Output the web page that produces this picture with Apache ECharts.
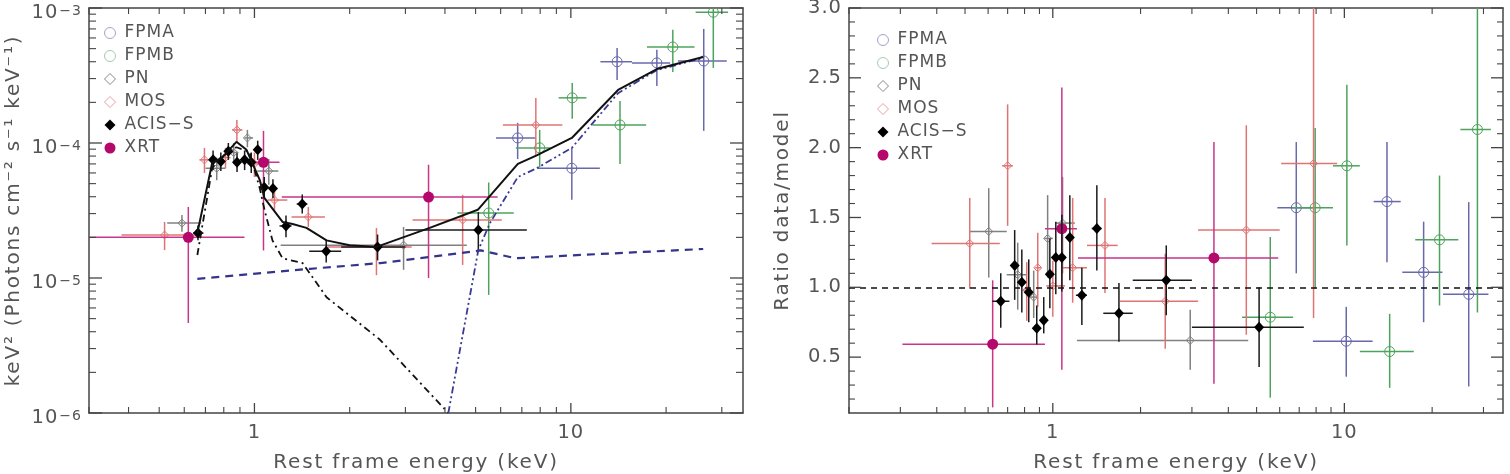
<!DOCTYPE html>
<html>
<head>
<meta charset="utf-8">
<script src="https://cdn.jsdelivr.net/npm/echarts@6/dist/echarts.min.js"></script>
<style>
html, body { margin: 0; padding: 0; background: #fff; }
#chart { width: 1510px; height: 474px; }
</style>
</head>
<body>
<div id="chart"></div>
<script>
// each point: [E, value, E_lo, E_hi, value_lo, value_hi]
var specFPMA = [
  [6.79, 1.09e-4, 5.8, 7.75, 7.6e-5, 1.41e-4],
  [10.07, 6.5e-5, 7.85, 12.35, 3.8e-5, 9.2e-5],
  [14.0, 4.0e-4, 12.4, 15.6, 2.93e-4, 5.06e-4],
  [18.7, 3.92e-4, 15.6, 20.6, 2.64e-4, 4.9e-4],
  [26.3, 4.05e-4, 21.8, 31.1, 1.23e-4, 7.0e-4]
];
var specFPMB = [
  [5.5, 3.03e-5, 4.38, 6.6, 7.5e-6, 5.1e-5],
  [7.97, 9.2e-5, 6.7, 8.6, 6.6e-5, 1.25e-4],
  [10.1, 2.16e-4, 9.15, 11.2, 1.51e-4, 2.78e-4],
  [14.3, 1.36e-4, 11.7, 17.3, 7.0e-5, 2.05e-4],
  [21.0, 5.14e-4, 17.4, 24.6, 3.36e-4, 6.9e-4],
  [28.2, 9.3e-4, 24.8, 31.4, 3.6e-4, 1.6e-3]
];
var specPN = [
  [0.59, 2.55e-5, 0.53, 0.68, 2.2e-5, 2.93e-5],
  [0.76, 6.5e-5, 0.70, 0.81, 5.3e-5, 7.8e-5],
  [0.86, 8.5e-5, 0.83, 0.89, 7.0e-5, 1.0e-4],
  [0.95, 1.09e-4, 0.93, 0.99, 9.3e-5, 1.25e-4],
  [1.11, 6.2e-5, 1.02, 1.19, 4.9e-5, 7.6e-5],
  [2.96, 1.75e-5, 1.21, 4.69, 1.15e-5, 2.39e-5]
];
var specMOS = [
  [0.52, 2.08e-5, 0.38, 0.655, 1.61e-5, 2.6e-5],
  [0.695, 7.5e-5, 0.67, 0.73, 6.0e-5, 9.2e-5],
  [0.81, 7.8e-5, 0.79, 0.84, 6.5e-5, 9.2e-5],
  [0.88, 1.25e-4, 0.85, 0.916, 1.0e-4, 1.48e-4],
  [1.0, 7.0e-5, 0.95, 1.1, 5.6e-5, 8.5e-5],
  [1.157, 3.78e-5, 1.1, 1.27, 3.2e-5, 4.5e-5],
  [1.48, 2.83e-5, 1.31, 1.67, 2.39e-5, 3.36e-5],
  [2.43, 1.7e-5, 1.7, 3.14, 1.05e-5, 2.35e-5],
  [4.55, 2.69e-5, 3.16, 6.05, 1.25e-5, 4.12e-5],
  [7.75, 1.36e-4, 6.1, 9.4, 8.1e-5, 2.15e-4]
];
var specACIS = [
  [0.663, 2.15e-5, 0.64, 0.69, 1.9e-5, 2.45e-5],
  [0.74, 7.5e-5, 0.72, 0.76, 6.3e-5, 8.8e-5],
  [0.783, 7.3e-5, 0.765, 0.80, 6.2e-5, 8.5e-5],
  [0.827, 8.7e-5, 0.81, 0.845, 7.5e-5, 1.0e-4],
  [0.881, 7.2e-5, 0.86, 0.90, 6.1e-5, 8.4e-5],
  [0.931, 7.5e-5, 0.91, 0.95, 6.3e-5, 8.8e-5],
  [0.977, 7.2e-5, 0.955, 1.0, 6.0e-5, 8.5e-5],
  [1.024, 8.9e-5, 1.0, 1.05, 7.5e-5, 1.04e-4],
  [1.074, 4.7e-5, 1.05, 1.10, 3.9e-5, 5.6e-5],
  [1.144, 4.6e-5, 1.11, 1.18, 3.9e-5, 5.4e-5],
  [1.258, 2.43e-5, 1.2, 1.31, 2.0e-5, 2.9e-5],
  [1.416, 3.53e-5, 1.36, 1.47, 3.0e-5, 4.15e-5],
  [1.686, 1.58e-5, 1.49, 1.88, 1.3e-5, 1.9e-5],
  [2.45, 1.7e-5, 1.88, 3.0, 1.35e-5, 2.1e-5],
  [5.1, 2.27e-5, 3.0, 7.26, 1.61e-5, 3.08e-5]
];
var specXRT = [
  [0.618, 2.0e-5, 0.29, 0.93, 4.64e-6, 3.36e-5],
  [1.068, 7.2e-5, 0.985, 1.2, 1.6e-5, 1.23e-4],
  [3.55, 3.98e-5, 1.22, 5.87, 1.0e-5, 6.9e-5]
];

var ratioFPMA = [
  [6.84, 1.57, 5.89, 7.78, 1.1, 2.04],
  [10.15, 0.614, 7.8, 12.5, 0.36, 0.86],
  [14.0, 1.614, 12.6, 15.6, 1.18, 2.04],
  [18.7, 1.107, 15.8, 21.7, 0.75, 1.47],
  [26.7, 0.95, 21.8, 31.2, 0.29, 1.61]
];
var ratioFPMB = [
  [5.57, 0.786, 4.46, 6.67, 0.21, 1.36],
  [7.94, 1.57, 6.63, 9.14, 0.99, 2.14],
  [10.2, 1.87, 9.14, 11.3, 1.3, 2.45],
  [14.3, 0.54, 11.3, 17.3, 0.28, 0.81],
  [21.2, 1.34, 17.5, 24.6, 0.87, 1.8],
  [28.6, 2.13, 25.0, 31.8, 0.82, 3.3]
];
var ratioPN = [
  [0.603, 1.40, 0.52, 0.695, 1.07, 1.71],
  [0.758, 1.09, 0.695, 0.81, 0.84, 1.32],
  [0.86, 0.93, 0.83, 0.89, 0.78, 1.12],
  [0.96, 1.35, 0.935, 1.0, 1.07, 1.66],
  [1.08, 1.46, 1.02, 1.19, 1.1, 1.79],
  [2.96, 0.62, 1.21, 4.68, 0.41, 0.84]
];
var ratioMOS = [
  [0.519, 1.314, 0.384, 0.658, 0.99, 1.64],
  [0.70, 1.87, 0.67, 0.73, 1.44, 2.31],
  [0.814, 0.98, 0.79, 0.84, 0.76, 1.18],
  [0.888, 1.14, 0.87, 0.91, 0.86, 1.39],
  [1.0, 1.01, 0.95, 1.1, 0.79, 1.19],
  [1.17, 1.14, 1.07, 1.31, 0.89, 1.64],
  [1.51, 1.30, 1.31, 1.67, 0.96, 1.64],
  [2.43, 0.90, 1.7, 3.15, 0.56, 1.24],
  [4.61, 1.41, 3.15, 6.0, 0.66, 2.16],
  [7.84, 1.886, 6.07, 9.45, 0.78, 3.3]
];
var ratioACIS = [
  [0.663, 0.90, 0.62, 0.71, 0.71, 1.1],
  [0.74, 1.157, 0.72, 0.76, 0.91, 1.41],
  [0.783, 1.036, 0.765, 0.80, 0.82, 1.27],
  [0.827, 0.964, 0.81, 0.845, 0.75, 1.2],
  [0.881, 0.707, 0.86, 0.90, 0.59, 0.87],
  [0.931, 0.764, 0.91, 0.95, 0.67, 0.93],
  [0.977, 1.093, 0.955, 1.0, 0.85, 1.35],
  [1.024, 1.214, 1.0, 1.05, 0.95, 1.47],
  [1.074, 1.214, 1.05, 1.10, 0.97, 1.52],
  [1.144, 1.357, 1.11, 1.18, 1.05, 1.66],
  [1.258, 0.943, 1.2, 1.31, 0.73, 1.14],
  [1.416, 1.421, 1.36, 1.47, 1.12, 1.73],
  [1.686, 0.814, 1.49, 1.88, 0.61, 1.03],
  [2.45, 1.05, 1.88, 3.0, 0.8, 1.3],
  [5.1, 0.714, 3.0, 7.26, 0.43, 1.0]
];
var ratioXRT = [
  [0.622, 0.593, 0.305, 0.94, 0.14, 1.05],
  [1.074, 1.42, 0.94, 1.21, 0.41, 2.43],
  [3.57, 1.21, 1.22, 5.93, 0.31, 2.04]
];

// model curves (E, keV^2 flux)
var modelTotal = [[0.66,2.15e-5],[0.736,7.2e-5],[0.787,7.7e-5],[0.877,1.02e-4],[0.944,8.9e-5],[1.04,5.3e-5],[1.076,3.9e-5],[1.227,2.6e-5],[1.32,2.51e-5],[1.46,2.35e-5],[1.69,1.9e-5],[2.0,1.75e-5],[2.43,1.7e-5],[3.58,2.35e-5],[5.08,3.2e-5],[6.8,7.0e-5],[7.8,8.1e-5],[10.07,1.09e-4],[14.1,2.47e-4],[18.7,3.53e-4],[26.2,4.34e-4]];
var modelPowerlaw = [[0.66,9.85e-6],[1.5,1.17e-5],[2.5,1.29e-5],[5.2,1.6e-5],[6.7,1.4e-5],[10,1.47e-5],[26.2,1.64e-5]];
var modelSoft = [[0.66,1.48e-5],[0.736,6.6e-5],[0.80,8.1e-5],[0.877,9.3e-5],[0.964,8.6e-5],[1.04,4.6e-5],[1.076,3.2e-5],[1.14,1.9e-5],[1.227,1.4e-5],[1.42,1.29e-5],[1.69,7.2e-6],[2.49,3.5e-6],[4.1,1.0e-6]];
var modelHard = [[4.1,1.0e-6],[5.1,1.61e-5],[5.55,2.55e-5],[6.8,5.6e-5],[7.8,6.5e-5],[10.07,9.2e-5],[14.1,2.34e-4],[18.7,3.47e-4],[26.2,4.27e-4]];

// ticks
var xMajor = [1, 10];
var xMinorLeft = [0.3,0.4,0.5,0.6,0.7,0.8,0.9,2,3,4,5,6,7,8,9,20,30];
var xMinorRight = [0.2,0.3,0.4,0.5,0.6,0.7,0.8,0.9,2,3,4,5,6,7,8,9,20,30];
var fluxMajor = [1e-6, 1e-5, 1e-4, 1e-3];
var fluxMinor = [2e-6,3e-6,4e-6,5e-6,6e-6,7e-6,8e-6,9e-6,2e-5,3e-5,4e-5,5e-5,6e-5,7e-5,8e-5,9e-5,2e-4,3e-4,4e-4,5e-4,6e-4,7e-4,8e-4,9e-4];
var ratioMajor = [0.5, 1.0, 1.5, 2.0, 2.5, 3.0];
var ratioMinor = [0.2,0.3,0.4,0.6,0.7,0.8,0.9,1.1,1.2,1.3,1.4,1.6,1.7,1.8,1.9,2.1,2.2,2.3,2.4,2.6,2.7,2.8,2.9];

// tracked-out lettering like the original plot: 20px titles wider than the rest
(function () {
  var P = CanvasRenderingContext2D.prototype;
  var ft = P.fillText, mt = P.measureText;
  function track(ctx) { ctx.letterSpacing = /(^|\s)20px/.test(ctx.font) ? '1.8px' : '1px'; }
  P.fillText = function () { track(this); return ft.apply(this, arguments); };
  P.measureText = function () { track(this); return mt.apply(this, arguments); };
})();

var FONT = 'DejaVu Sans';
var AX = '#444';
var TXT = '#555';
var COL = {
  FPMA: '#6868ac', FPMB: '#4ea35c', PN: '#808080',
  MOS: '#e07474', ACIS: '#1a1a1a', XRT: '#c8358a', XRTdot: '#b5086c'
};

function supRich(base, small) {
  return {
    b: { fontSize: base, lineHeight: base, verticalAlign: 'bottom', color: TXT, fontFamily: FONT },
    sup: { fontSize: small, lineHeight: small, verticalAlign: 'top', padding: [0, 0, 11, 1], color: TXT, fontFamily: FONT }
  };
}

function makeErr(kind, color, fillColor) {
  return function (params, api) {
    var x = api.value(0), y = api.value(1);
    var c = api.coord([x, y]);
    var xl = api.coord([api.value(2), y]);
    var xr = api.coord([api.value(3), y]);
    var yl = api.coord([x, api.value(4)]);
    var yh = api.coord([x, api.value(5)]);
    var ls = { stroke: color, lineWidth: 1.5 };
    var kids = [
      { type: 'line', shape: { x1: xl[0], y1: c[1], x2: xr[0], y2: c[1] }, style: ls },
      { type: 'line', shape: { x1: c[0], y1: yl[1], x2: c[0], y2: yh[1] }, style: ls }
    ];
    if (kind === 'circle') {
      kids.push({ type: 'circle', shape: { cx: c[0], cy: c[1], r: 5 }, style: { stroke: color, fill: 'transparent', lineWidth: 1 } });
    } else if (kind === 'diamond') {
      kids.push({ type: 'polygon', shape: { points: [[c[0], c[1]-4], [c[0]+4, c[1]], [c[0], c[1]+4], [c[0]-4, c[1]]] }, style: { stroke: color, fill: 'transparent', lineWidth: 1 } });
    } else if (kind === 'fdiamond') {
      kids.push({ type: 'polygon', shape: { points: [[c[0], c[1]-5.5], [c[0]+5, c[1]], [c[0], c[1]+5.5], [c[0]-5, c[1]]] }, style: { fill: fillColor } });
    } else {
      kids.push({ type: 'circle', shape: { cx: c[0], cy: c[1], r: 5.5 }, style: { fill: fillColor } });
    }
    return { type: 'group', children: kids };
  };
}

function errSeries(name, data, kind, color, fillColor, axIdx) {
  return {
    type: 'custom', name: name, data: data, clip: true,
    xAxisIndex: axIdx, yAxisIndex: axIdx,
    itemStyle: { color: fillColor || color },
    renderItem: makeErr(kind, color, fillColor),
    silent: true, z: 3
  };
}

function modelSeries(data, color, width, dash) {
  return {
    type: 'line', data: data, xAxisIndex: 0, yAxisIndex: 0,
    symbol: 'none', showSymbol: false, clip: true, silent: true, z: 4,
    lineStyle: { color: color, width: width, type: dash }
  };
}

// inward ticks on all four sides of a grid, placed through the axes' scales
function tickSeries(axIdx, xMaj, xMin, yMaj, yMin, refX, refY, lens) {
  var data = [];
  xMaj.forEach(function (v) { data.push([v, refY, 1, 0]); });
  xMin.forEach(function (v) { data.push([v, refY, 0, 0]); });
  yMaj.forEach(function (v) { data.push([refX, v, 1, 1]); });
  yMin.forEach(function (v) { data.push([refX, v, 0, 1]); });
  return {
    type: 'custom', data: data, xAxisIndex: axIdx, yAxisIndex: axIdx, silent: true, clip: false, z: 5,
    renderItem: function (params, api) {
      var cs = params.coordSys;
      var major = api.value(2) === 1;
      var st = { stroke: AX, lineWidth: major ? 1.3 : 1.1 };
      if (api.value(3) === 0) {
        var px = api.coord([api.value(0), refY])[0];
        var L = major ? lens[0] : lens[1];
        var yb = cs.y + cs.height, yt = cs.y;
        return { type: 'group', children: [
          { type: 'line', shape: { x1: px, y1: yb, x2: px, y2: yb - L }, style: st },
          { type: 'line', shape: { x1: px, y1: yt, x2: px, y2: yt + L }, style: st }
        ] };
      }
      var py = api.coord([refX, api.value(1)])[1];
      var M = major ? lens[2] : lens[3];
      var xl = cs.x, xr = cs.x + cs.width;
      return { type: 'group', children: [
        { type: 'line', shape: { x1: xl, y1: py, x2: xl + M, y2: py }, style: st },
        { type: 'line', shape: { x1: xr, y1: py, x2: xr - M, y2: py }, style: st }
      ] };
    }
  };
}

function axis(gridIndex, position, type, min, max, label, extra) {
  var a = {
    gridIndex: gridIndex, position: position, type: type, min: min, max: max, logBase: 10,
    splitLine: { show: false }, silent: true,
    axisLine: { show: true, onZero: false, lineStyle: { color: AX, width: 1.5 } },
    axisTick: { show: false },
    axisLabel: label || { show: false }
  };
  if (extra) Object.assign(a, extra);
  return a;
}

var xLabel = {
  show: true, customValues: xMajor, margin: 9, fontSize: 19.5, color: TXT, fontFamily: FONT,
  formatter: function (v) { return String(Math.round(v)); }
};
var xName = {
  name: 'Rest frame energy (keV)', nameLocation: 'middle', nameGap: 39,
  nameTextStyle: { fontSize: 20, color: TXT, fontFamily: FONT }
};

var xAxes = [
  axis(0, 'bottom', 'log', 0.3, 35, xLabel, xName),
  axis(0, 'top', 'log', 0.3, 35),
  axis(1, 'bottom', 'log', 0.2, 35, xLabel, xName),
  axis(1, 'top', 'log', 0.2, 35)
];

var fluxLabel = {
  show: true, customValues: fluxMajor, margin: 7, padding: [12, 0, 0, 0], rich: supRich(19.5, 14),
  formatter: function (v) { return '{b|10}{sup|−' + Math.round(-Math.log10(v)) + '}'; }
};
var fluxName = {
  name: 'keV² (Photons cm⁻² s⁻¹ keV⁻¹)',
  nameLocation: 'middle', nameGap: 64, nameRotate: 90,
  nameTextStyle: { fontSize: 20, color: TXT, fontFamily: FONT }
};
var ratioLabel = {
  show: true, customValues: ratioMajor, margin: 7, fontSize: 19.5, color: TXT, fontFamily: FONT,
  formatter: function (v) { return v.toFixed(1); }
};
var ratioName = {
  name: 'Ratio data/model', nameLocation: 'middle', nameGap: 55, nameRotate: 90,
  nameTextStyle: { fontSize: 20, color: TXT, fontFamily: FONT }
};

var yAxes = [
  axis(0, 'left', 'log', 1e-6, 1e-3, fluxLabel, fluxName),
  axis(0, 'right', 'log', 1e-6, 1e-3),
  axis(1, 'left', 'value', 0.1, 3.0, ratioLabel, ratioName),
  axis(1, 'right', 'value', 0.1, 3.0)
];

function legendItems() {
  return [
    { name: 'FPMA', icon: 'circle', itemStyle: { color: 'transparent', borderColor: '#a4a4c8', borderWidth: 1 } },
    { name: 'FPMB', icon: 'circle', itemStyle: { color: 'transparent', borderColor: '#a6cbb0', borderWidth: 1 } },
    { name: 'PN', icon: 'diamond', itemStyle: { color: 'transparent', borderColor: '#888', borderWidth: 1 } },
    { name: 'MOS', icon: 'diamond', itemStyle: { color: 'transparent', borderColor: '#e8a0a0', borderWidth: 1 } },
    { name: 'ACIS−S', icon: 'diamond', itemStyle: { color: '#000' } },
    { name: 'XRT', icon: 'circle', itemStyle: { color: COL.XRTdot } }
  ];
}
function legendAt(left, top) {
  return {
    left: left, top: top, padding: 0, orient: 'vertical', itemWidth: 11, itemHeight: 11, itemGap: 5,
    selectedMode: false,
    textStyle: { fontSize: 17, lineHeight: 17, color: TXT, fontFamily: FONT, padding: [0, 0, 0, 4] },
    data: legendItems()
  };
}

var series = [
  tickSeries(0, xMajor, xMinorLeft, fluxMajor, fluxMinor, 1, 1e-4, [10, 6, 13, 7]),
  tickSeries(2, xMajor, xMinorRight, ratioMajor, ratioMinor, 1, 1, [10, 6, 12, 6]),
  errSeries('FPMA', specFPMA, 'circle', COL.FPMA, null, 0),
  errSeries('FPMB', specFPMB, 'circle', COL.FPMB, null, 0),
  errSeries('PN', specPN, 'diamond', COL.PN, null, 0),
  errSeries('MOS', specMOS, 'diamond', COL.MOS, null, 0),
  errSeries('XRT', specXRT, 'fcircle', COL.XRT, COL.XRTdot, 0),
  errSeries('ACIS−S', specACIS, 'fdiamond', COL.ACIS, '#000', 0),
  modelSeries(modelPowerlaw, '#34348a', 2.2, [8, 6]),
  modelSeries(modelSoft, '#111', 1.8, [7, 4, 2, 4]),
  modelSeries(modelHard, '#3a3a96', 1.8, [7, 3, 2, 3, 2, 3]),
  modelSeries(modelTotal, '#111', 2, 'solid'),
  errSeries('FPMA', ratioFPMA, 'circle', COL.FPMA, null, 2),
  errSeries('FPMB', ratioFPMB, 'circle', COL.FPMB, null, 2),
  errSeries('PN', ratioPN, 'diamond', COL.PN, null, 2),
  errSeries('MOS', ratioMOS, 'diamond', COL.MOS, null, 2),
  errSeries('XRT', ratioXRT, 'fcircle', COL.XRT, COL.XRTdot, 2),
  errSeries('ACIS−S', ratioACIS, 'fdiamond', COL.ACIS, '#000', 2),
  {
    type: 'line', data: [], xAxisIndex: 2, yAxisIndex: 2, silent: true,
    markLine: {
      silent: true, symbol: 'none', label: { show: false },
      lineStyle: { color: '#111', width: 1.5, type: [6, 5] },
      data: [{ yAxis: 1.0 }]
    }
  }
];

var chart = echarts.init(document.getElementById('chart'), null, { renderer: 'canvas' });
chart.setOption({
  animation: false,
  backgroundColor: '#fff',
  textStyle: { fontFamily: FONT },
  grid: [
    { left: 89, right: 767, top: 8, bottom: 61, containLabel: false, outerBoundsMode: 'none' },
    { left: 849, right: 7, top: 8, bottom: 61, containLabel: false, outerBoundsMode: 'none' }
  ],
  legend: [legendAt(104, 24), legendAt(877, 31)],
  xAxis: xAxes,
  yAxis: yAxes,
  series: series
});
</script>
</body>
</html>
